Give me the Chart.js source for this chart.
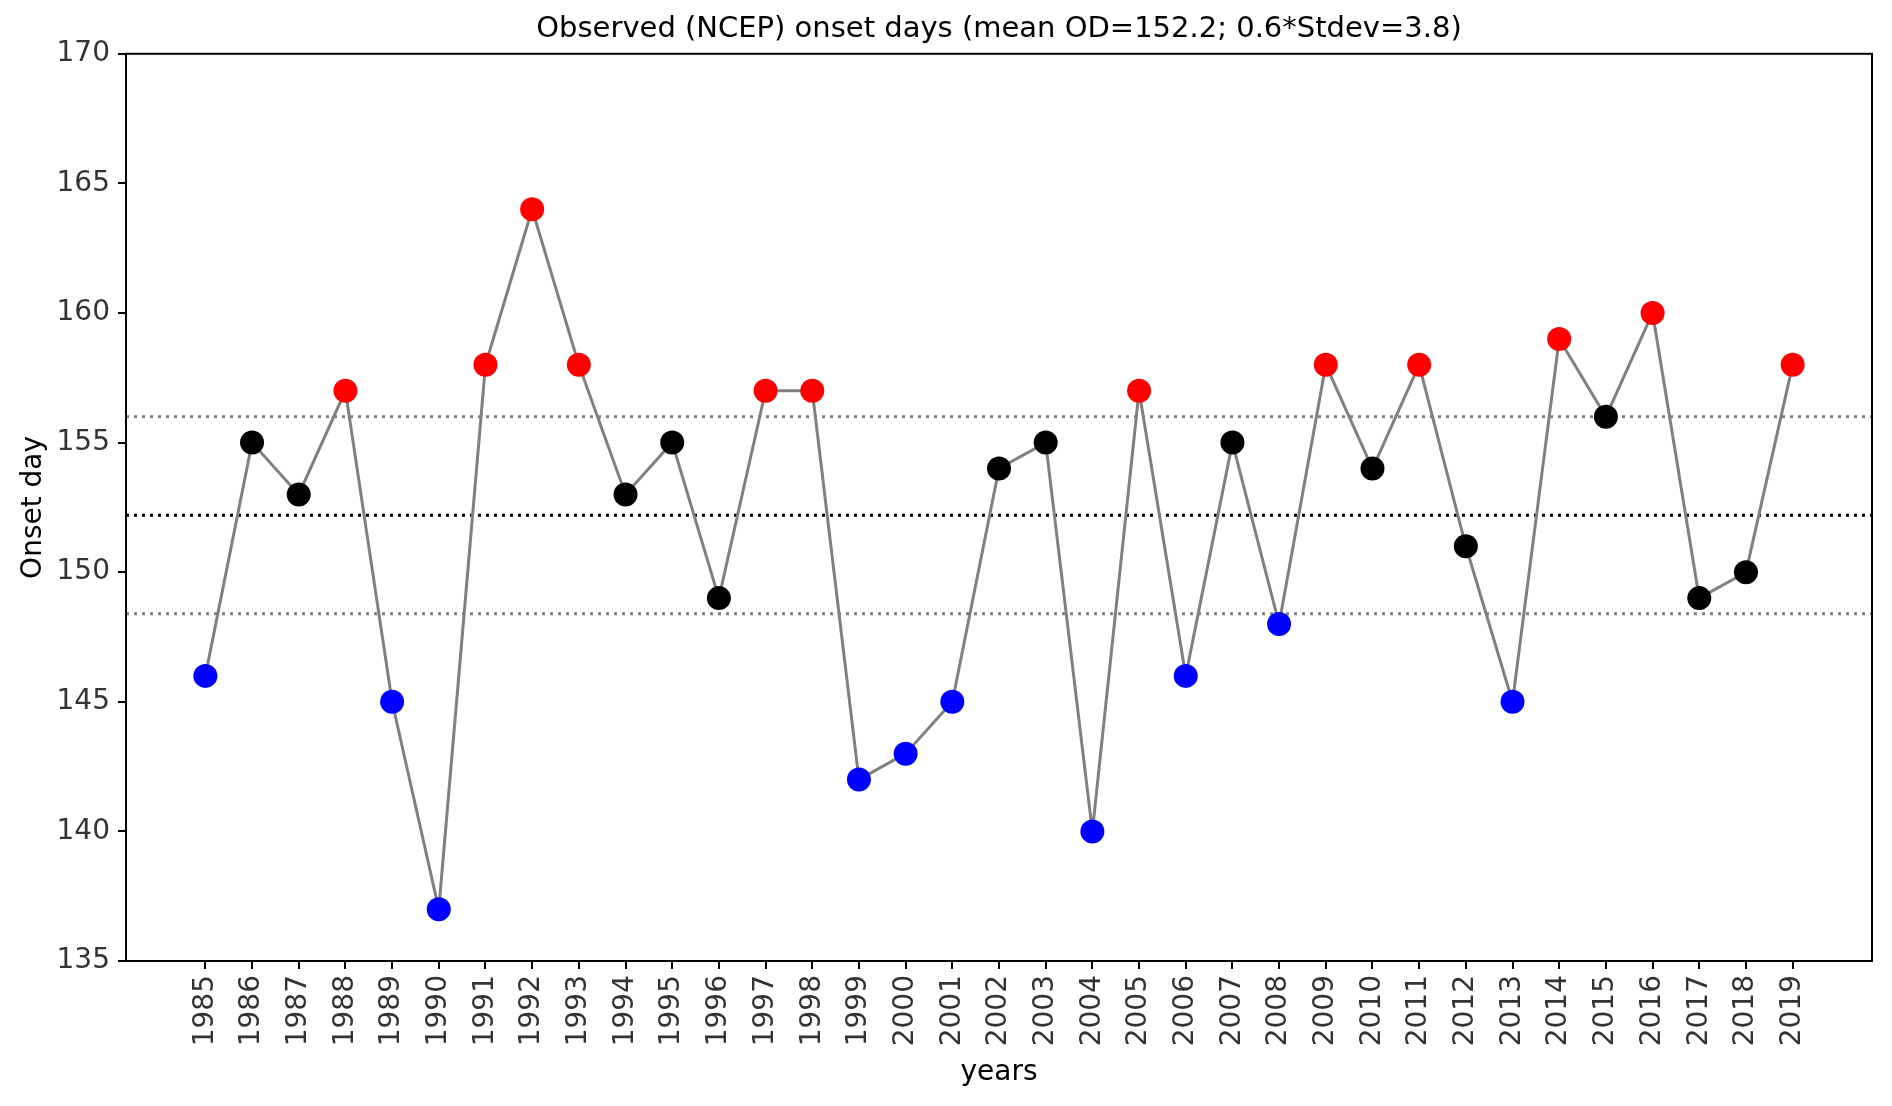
<!DOCTYPE html>
<html>
<head>
<meta charset="utf-8">
<title>Observed (NCEP) onset days</title>
<script src="https://cdn.jsdelivr.net/npm/chart.js@4.4.1/dist/chart.umd.min.js"></script>
<style>
    html, body { margin: 0; padding: 0; background: #fff; }
    #wrap { width: 1892px; height: 1106px; position: relative; }
</style>
</head>
<body>
<div id="wrap"><canvas id="onsetChart"></canvas></div>
<script>
// Onset day per year
const years = [1985, 1986, 1987, 1988, 1989, 1990, 1991, 1992, 1993, 1994,
               1995, 1996, 1997, 1998, 1999, 2000, 2001, 2002, 2003, 2004,
               2005, 2006, 2007, 2008, 2009, 2010, 2011, 2012, 2013, 2014,
               2015, 2016, 2017, 2018, 2019];
const onsetDays = [146, 155, 153, 157, 145, 137, 158, 164, 158, 153,
                   155, 149, 157, 157, 142, 143, 145, 154, 155, 140,
                   157, 146, 155, 148, 158, 154, 158, 151, 145, 159,
                   156, 160, 149, 150, 158];
const meanOD = 152.2;
const band = 3.8;          // 0.6 * stdev
const yTicks = [135, 140, 145, 150, 155, 160, 165, 170];
const xRange = [1983.3, 2020.7];

const FONT = "'DejaVu Sans', 'Noto Sans', sans-serif";

function pointColour(v) {
    if (v > meanOD + band) return '#ff0000';
    if (v < meanOD - band) return '#0000ff';
    return '#000000';
}

function hLine(y, colour) {
    return {
        type: 'line',
        data: xRange.map(x => ({ x: x, y: y })),
        borderColor: colour,
        borderWidth: 3,
        borderDash: [3, 5],
        pointRadius: 0,
        order: 2
    };
}

// black frame round the plot area (top and right spines)
const framePlugin = {
    id: 'frame',
    afterDatasetsDraw(chart) {
        const { ctx, chartArea: a } = chart;
        ctx.save();
        ctx.strokeStyle = '#000';
        ctx.lineWidth = 2;
        ctx.strokeRect(a.left, a.top, a.right - a.left, a.bottom - a.top);
        ctx.restore();
    }
};

const ctx = document.getElementById('onsetChart');
new Chart(ctx, {
    type: 'line',
    data: {
        datasets: [
            {
                label: 'onset',
                data: years.map((yr, i) => ({ x: yr, y: onsetDays[i] })),
                borderColor: '#808080',
                borderWidth: 3,
                pointRadius: 12,
                pointHoverRadius: 12,
                pointBorderWidth: 0,
                pointBackgroundColor: onsetDays.map(pointColour),
                tension: 0,
                order: 1
            },
            hLine(meanOD + band, '#808080'),
            hLine(meanOD, '#000000'),
            hLine(meanOD - band, '#808080')
        ]
    },
    options: {
        responsive: true,
        maintainAspectRatio: false,
        animation: false,
        layout: { padding: { left: 0, right: 20, top: 0, bottom: 0 } },
        plugins: {
            legend: { display: false },
            tooltip: { enabled: false },
            title: {
                display: true,
                fullSize: false,
                text: 'Observed (NCEP) onset days (mean OD=152.2; 0.6*Stdev=3.8)',
                color: '#000',
                font: { family: FONT, size: 29, weight: 'normal', lineHeight: 1.2 },
                padding: { top: 12, bottom: 7 }
            }
        },
        scales: {
            x: {
                type: 'linear',
                min: xRange[0],
                max: xRange[1],
                afterBuildTicks: scale => {
                    scale.ticks = years.map(v => ({ value: v }));
                },
                afterFit: scale => { scale.height = 145; },
                border: { color: '#000', width: 2 },
                grid: { drawOnChartArea: false, drawTicks: true, tickLength: 8, color: '#000', lineWidth: 2 },
                ticks: {
                    autoSkip: false,
                    minRotation: 90,
                    maxRotation: 90,
                    padding: 6,
                    color: '#333',
                    font: { family: FONT, size: 28 },
                    callback: v => String(v)
                },
                title: {
                    display: true,
                    text: 'years',
                    color: '#000',
                    font: { family: FONT, size: 28 },
                    padding: { top: 0, bottom: 16 }
                }
            },
            y: {
                min: 135,
                max: 170,
                afterBuildTicks: scale => {
                    scale.ticks = yTicks.map(v => ({ value: v }));
                },
                afterFit: scale => { scale.width = 126; },
                border: { color: '#000', width: 2 },
                grid: { drawOnChartArea: false, drawTicks: true, tickLength: 8, color: '#000', lineWidth: 2 },
                ticks: {
                    padding: 8,
                    color: '#333',
                    font: { family: FONT, size: 28 }
                },
                title: {
                    display: true,
                    text: 'Onset day',
                    color: '#000',
                    font: { family: FONT, size: 28 },
                    padding: { top: 17, bottom: 0 }
                }
            }
        }
    },
    plugins: [framePlugin]
});
</script>
</body>
</html>
